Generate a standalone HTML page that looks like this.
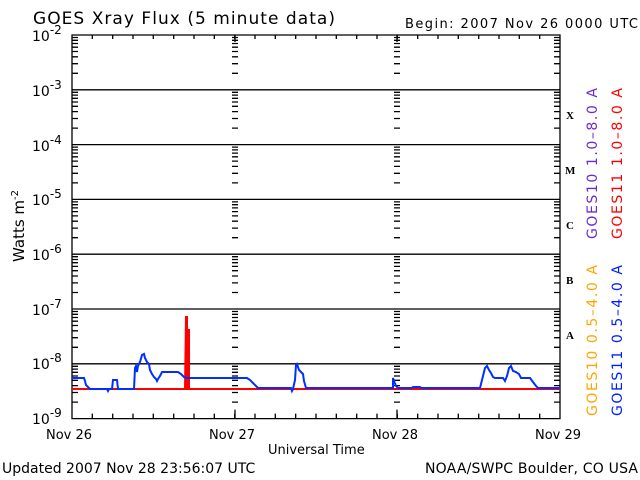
<!DOCTYPE html>
<html><head><meta charset="utf-8"><style>
html,body{margin:0;padding:0;background:#fff;}
svg{display:block;font-family:"DejaVu Sans","Liberation Sans",sans-serif;}
</style></head><body>
<svg id="s" width="640" height="480" viewBox="0 0 640 480" xmlns="http://www.w3.org/2000/svg">
<rect width="640" height="480" fill="#fff"/>
<text x="33" y="24" font-size="17" fill="#000" textLength="302" lengthAdjust="spacing">GOES Xray Flux (5 minute data)</text>
<text x="405" y="28" font-size="13" fill="#000" textLength="233" lengthAdjust="spacing">Begin:  2007 Nov 26 0000 UTC</text>
<g id="ax" stroke="#000" stroke-width="1.3" fill="none"></g>
<g font-size="14" fill="#000">
<text x="32" y="41">10<tspan dy="-7" font-size="12">-2</tspan></text>
<text x="32" y="96">10<tspan dy="-7" font-size="12">-3</tspan></text>
<text x="32" y="151">10<tspan dy="-7" font-size="12">-4</tspan></text>
<text x="32" y="205">10<tspan dy="-7" font-size="12">-5</tspan></text>
<text x="32" y="260">10<tspan dy="-7" font-size="12">-6</tspan></text>
<text x="32" y="315">10<tspan dy="-7" font-size="12">-7</tspan></text>
<text x="32" y="369">10<tspan dy="-7" font-size="12">-8</tspan></text>
<text x="32" y="424">10<tspan dy="-7" font-size="12">-9</tspan></text>
</g>
<g font-family="Liberation Serif,serif" font-weight="bold" font-size="11" fill="#000">
<text x="566" y="119">X</text><text x="565" y="174">M</text><text x="566" y="229">C</text><text x="566" y="284">B</text><text x="566" y="339">A</text>
</g>
<text transform="translate(24,262) rotate(-90)" font-size="15" fill="#000">Watts m<tspan dy="-6" font-size="10">-2</tspan></text>
<g font-size="14">
<text transform="translate(597,239) rotate(-90)" fill="#6a2ccf" textLength="151" lengthAdjust="spacing">GOES10 1.0–8.0 A</text>
<text transform="translate(622,239) rotate(-90)" fill="#ff0000" textLength="151" lengthAdjust="spacing">GOES11 1.0–8.0 A</text>
<text transform="translate(597,416) rotate(-90)" fill="#ffa500" textLength="151" lengthAdjust="spacing">GOES10 0.5–4.0 A</text>
<text transform="translate(622,416) rotate(-90)" fill="#0020ff" textLength="151" lengthAdjust="spacing">GOES11 0.5–4.0 A</text>
</g>
<g font-size="13" fill="#000">
<text x="46" y="439">Nov 26</text><text x="209" y="439">Nov 27</text><text x="372" y="439">Nov 28</text><text x="535" y="439">Nov 29</text>
<text x="268" y="454">Universal Time</text>
<text x="2" y="473" font-size="14">Updated 2007 Nov 28 23:56:07 UTC</text>
<text x="425" y="473" font-size="14" textLength="213" lengthAdjust="spacing">NOAA/SWPC Boulder, CO USA</text>
</g>
<polyline fill="none" stroke="#ff0000" stroke-width="2" points="72,389 185,389 186,317 187,317 187,389 188,389 188,330 189,330 189,389 560,389"/>
<polyline fill="none" stroke="#0030ff" stroke-width="2" points="72,378 84,378 85,381 86,385 88,387 90,389 107,389 108,391 109,389 112,389 113,380 117,380 118,389 134,389 135,368 136,366 137,372 138,366 140,362 142,355 144,354 145,358 147,362 149,364 150,370 152,374 154,377 156,379 157,381 158,379 160,376 162,372 178,372 181,374 184,377 186,378 190,378 247,378 250,380 253,383 256,386 258,388 291,388 292,391 293,389 295,380 296,365 297,364 299,370 301,372 303,374 304,381 306,388 393,388 393,378 394,381 396,386 398,388 412,388 413,387 420,387 421,388 480,388 482,380 485,368 487,366 489,370 491,373 493,377 495,378 503,378 505,381 507,376 509,368 511,366 513,371 516,372 519,374 521,378 530,378 533,382 536,386 538,388 560,388"/>
<script>
var ax=document.getElementById('ax');
var L=72,R=560,T=35,B=418.6,D=(B-T)/7,d='';
d+='M'+L+' '+T+'H'+R+'V'+B+'H'+L+'Z';
for(var i=1;i<7;i++){var y=T+i*D;d+='M'+L+' '+y.toFixed(1)+'H'+R;}
for(var i=0;i<7;i++){
 for(var k=2;k<10;k++){
  var y=(T+(i+1)*D-Math.log10(k)*D).toFixed(1);
  d+='M'+L+' '+y+'h6';d+='M'+R+' '+y+'h-6';
  d+='M232 '+y+'h6';d+='M394 '+y+'h6';
 }
}
for(var j=0;j<=24;j++){var x=(L+j*(R-L)/24).toFixed(1);d+='M'+x+' '+B+'v-5';d+='M'+x+' '+T+'v4';}
[235,397].forEach(function(x){d+='M'+x+' '+B+'v-9';d+='M'+x+' '+T+'v7';});
var p=document.createElementNS('http://www.w3.org/2000/svg','path');p.setAttribute('d',d);ax.appendChild(p);
</script>
</svg>
</body></html>
